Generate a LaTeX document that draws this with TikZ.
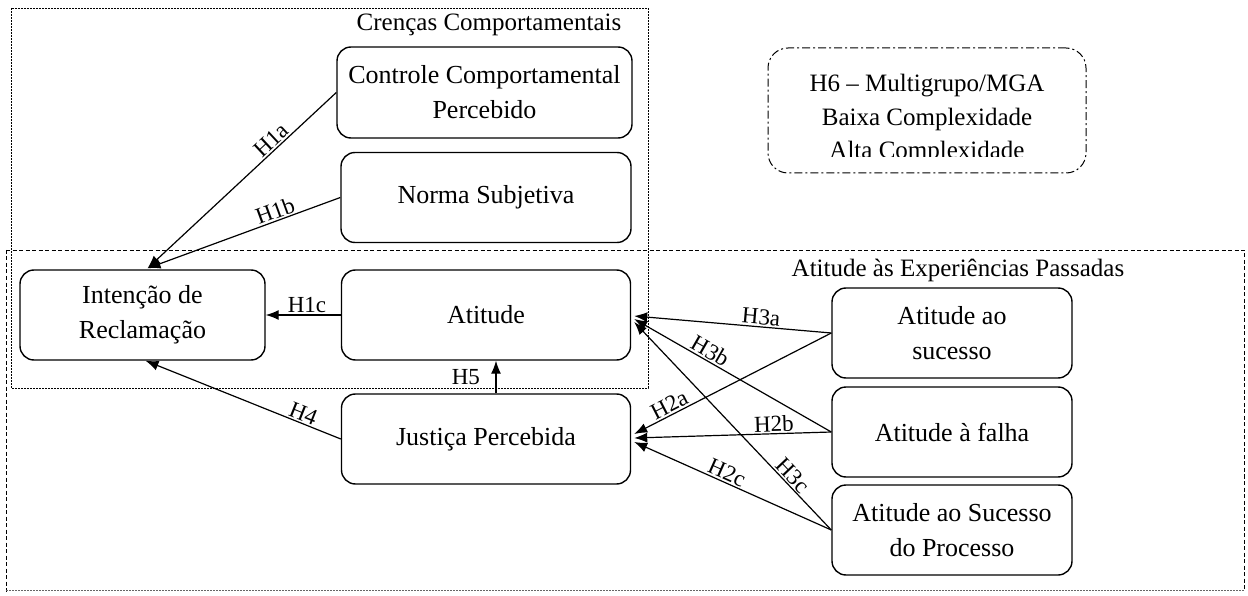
\documentclass[tikz,border=0pt]{standalone}
\usepackage{fontspec}
\setmainfont{Liberation Serif}
\usetikzlibrary{arrows.meta,calc}
\begin{document}
\begin{tikzpicture}[x=1pt,y=-1pt,
  box/.style={draw, line width=1.4pt, rounded corners=14pt, align=center, inner sep=0pt, font=\fontsize{26}{35}\selectfont},
  conn/.style={line width=1.2pt, -{Latex[length=13pt,width=10pt]}},
  lab/.style={font=\fontsize{23}{26}\selectfont, inner sep=1.5pt},
  grp/.style={font=\fontsize{25}{30}\selectfont, inner sep=0pt},
  grpA/.style={line width=0.9pt, dash pattern=on 2pt off 1pt},
  grpB/.style={line width=0.9pt, dash pattern=on 4pt off 2.5pt}]
\useasboundingbox (0,0) rectangle (1248,596);
% group frames
\draw[grpB] (6,250) -- (1244,250) -- (1244,590);
\draw[grpB] (6,250) -- (6,594);
\draw[line width=0.5pt, dash pattern=on 1.5pt off 1.5pt, black!60] (6,590) -- (1244,590);
\draw[grpA] (11,8) rectangle (648,388);
\node[grp] (tcren) at (489,25) {Crenças Comportamentais};
\node[grp] (texp) at (958,270) {Atitude às Experiências Passadas};
% boxes
\node[box, minimum width=295pt, minimum height=91pt] (ccp) at (484.5,92.5) {Controle Comportamental\\Percebido};
\node[box, minimum width=290pt, minimum height=90pt] (ns) at (486,197.5) {Norma Subjetiva};
\node[box, minimum width=245pt, minimum height=90pt] (int) at (142.5,315) {Intenção de\\Reclamação};
\node[box, minimum width=289pt, minimum height=90pt] (ati) at (486,315) {Atitude};
\node[box, minimum width=289pt, minimum height=90pt] (jus) at (486,439) {Justiça Percebida};
\node[box, minimum width=240pt, minimum height=90pt] (asu) at (952,333) {Atitude ao\\sucesso};
\node[box, minimum width=240pt, minimum height=90pt] (afa) at (952,432) {Atitude à falha};
\node[box, minimum width=240pt, minimum height=90pt] (asp) at (952,530) {Atitude ao Sucesso\\do Processo};
% H6 box
\node[draw, line width=1pt, rounded corners=20pt, dash pattern=on 8pt off 3pt on 2pt off 3pt,
      minimum width=318pt, minimum height=125pt] (h6) at (927,110.5) {};
\begin{scope}
\clip (770,50) rectangle (1084,157);
\node[align=center, inner sep=0pt, font=\fontsize{25}{33.5}\selectfont] (h6t) at (927,119) {H6 – Multigrupo/MGA\\Baixa Complexidade\\Alta Complexidade};
\end{scope}
% connectors
\draw[conn] (ccp.west) -- node[lab,sloped,above,pos=0.31]{H1a} ($(int.north)+(5,-1)$);
\draw[conn] (ns.west) -- node[lab,sloped,above,pos=0.32]{H1b} ($(int.north)+(5,-1)$);
\draw[conn] (ati.west) -- node[lab,above,pos=0.45]{H1c} (int.east);
\draw[conn] (jus.west) -- node[lab,sloped,above,pos=0.21]{H4} ($(int.south)+(3,0)$);
\draw[conn] ($(jus.north)+(10,0)$) -- node[lab,left=14pt,pos=0.5]{H5} ($(ati.south)+(10,0)$);
\draw[conn] (asu.west) -- node[lab,sloped,above,pos=0.36]{H3a} ($(ati.east)+(3,1)$);
\draw[conn] (afa.west) -- node[lab,sloped,above,pos=0.64]{H3b} ($(ati.east)+(3,4)$);
\draw[conn] (asp.west) -- node[lab,sloped,above,pos=0.23]{H3c} ($(ati.east)+(3,7)$);
\draw[conn] (asu.west) -- node[lab,sloped,above,pos=0.80]{H2a} ($(jus.east)+(3,-5)$);
\draw[conn] (afa.west) -- node[lab,sloped,above,pos=0.29]{H2b} ($(jus.east)+(3,-1)$);
\draw[conn] (asp.west) -- node[lab,sloped,above,pos=0.55]{H2c} ($(jus.east)+(3,3)$);
\end{tikzpicture}
\end{document}
